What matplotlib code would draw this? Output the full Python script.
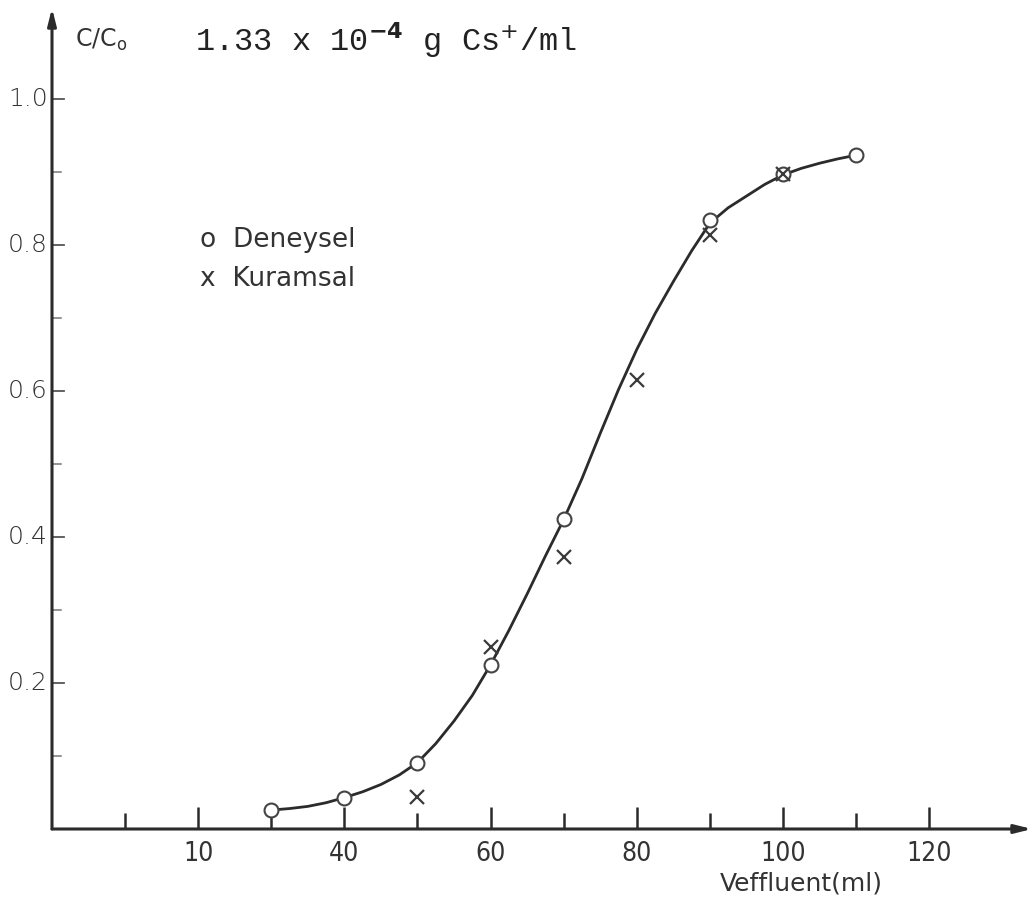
import matplotlib
matplotlib.use("Agg")
import matplotlib.pyplot as plt

# --- data ---
deneysel_x = [30, 40, 50, 60, 70, 90, 100, 110]
deneysel_y = [0.026, 0.043, 0.091, 0.225, 0.424, 0.834, 0.897, 0.923]

kuramsal_x = [50, 60, 70, 80, 90, 100]
kuramsal_y = [0.044, 0.250, 0.373, 0.615, 0.814, 0.897]

curve_x = [30, 32.5, 35, 37.5, 40, 42.5, 45, 47.5, 50, 52.5, 55, 57.5, 60, 62.5,
           65, 67.5, 70, 72.5, 75, 77.5, 80, 82.5, 85, 87.5, 90, 92.5, 95, 97.5,
           100, 102.5, 105, 107.5, 110]
curve_y = [0.026, 0.028, 0.031, 0.036, 0.043, 0.051, 0.061, 0.074, 0.091, 0.117,
           0.148, 0.183, 0.225, 0.272, 0.322, 0.374, 0.424, 0.480, 0.542, 0.602,
           0.657, 0.706, 0.750, 0.792, 0.830, 0.851, 0.867, 0.883, 0.896, 0.905,
           0.912, 0.918, 0.923]

x_major = [20, 40, 60, 80, 100, 120]
x_major_labels = ["10", "40", "60", "80", "100", "120"]
x_minor = [10, 30, 50, 70, 90, 110]
y_major = [0.2, 0.4, 0.6, 0.8, 1.0]
y_major_labels = ["0.2", "0.4", "0.6", "0.8", "1.0"]
y_minor = [0.1, 0.3, 0.5, 0.7, 0.9]

W, H = 1036, 924
fig = plt.figure(figsize=(W / 100, H / 100), dpi=100)
fig.patch.set_facecolor("white")

# axes placed so that origin is at pixel (52, 829)
x0, y0 = 52, 829
xr, yt = 1032, 8
ax = fig.add_axes([x0 / W, (H - y0) / H, (xr - x0) / W, (y0 - yt) / H])
px_per_x = (930 - 199) / 100.0
px_per_y = 730.0
ax.set_xlim(0, (xr - x0) / px_per_x)
ax.set_ylim(0, (y0 - yt) / px_per_y)
for s in ax.spines.values():
    s.set_visible(False)
ax.set_xticks([])
ax.set_yticks([])

ink = "#2b2b2b"
# axes with arrows
ax.annotate("", xy=(ax.get_xlim()[1], 0), xytext=(0, 0),
            arrowprops=dict(arrowstyle="-|>,head_length=1.0,head_width=0.25",
                            color=ink, lw=2.2, shrinkA=0, shrinkB=0),
            annotation_clip=False)
ax.annotate("", xy=(0, ax.get_ylim()[1]), xytext=(0, 0),
            arrowprops=dict(arrowstyle="-|>,head_length=1.0,head_width=0.25",
                            color=ink, lw=2.2, shrinkA=0, shrinkB=0),
            annotation_clip=False)

# x ticks (upward, inside)
tick_dy_major = 22 / px_per_y
tick_dy_minor = 16 / px_per_y
for xv in x_major:
    ax.plot([xv, xv], [0, tick_dy_major], color=ink, lw=1.8, solid_capstyle="butt")
for xv in x_minor:
    ax.plot([xv, xv], [0, tick_dy_minor], color=ink, lw=1.8, solid_capstyle="butt")
for xv, lab in zip(x_major, x_major_labels):
    ax.text(xv, -12 / px_per_y, lab, ha="center", va="top", fontsize=19,
            color="#333333", family="DejaVu Sans", fontstretch="condensed",
            fontweight="light")

# y ticks (rightward, inside)
tick_dx_major = 12 / px_per_x
tick_dx_minor = 9 / px_per_x
for yv in y_major:
    ax.plot([0, tick_dx_major], [yv, yv], color="#555555", lw=1.3)
for yv in y_minor:
    ax.plot([0, tick_dx_minor], [yv, yv], color="#777777", lw=1.1)
for yv, lab in zip(y_major, y_major_labels):
    ax.text(-4 / px_per_x, yv, lab, ha="right", va="center", fontsize=18,
            color="#333333", family="DejaVu Sans", fontweight="light")

# curve and points
ax.plot(curve_x, curve_y, color=ink, lw=2.0, zorder=2, solid_joinstyle="round")
ax.plot(deneysel_x, deneysel_y, linestyle="none", marker="o", markersize=10,
        markerfacecolor="white", markeredgecolor="#444444", markeredgewidth=1.5, zorder=3)
ax.plot(kuramsal_x, kuramsal_y, linestyle="none", marker="x", markersize=10,
        markeredgecolor="#3a3a3a", markeredgewidth=1.6, zorder=4)

# texts
fig.text(75 / W, 1 - 40 / H, r"C/C$_\mathregular{o}$", ha="left", va="center",
         fontsize=17, color="#333333", family="DejaVu Sans")
fig.text(195 / W, 1 - 40 / H, r"1.33 x 10$^{\mathbf{-4}}$ g Cs$^{+}$/ml", ha="left",
         va="center", fontsize=23, color="#222222", family="Liberation Mono",
         math_fontfamily="dejavusans")
fig.text(200 / W, 1 - 240 / H, "o  Deneysel", ha="left", va="center", fontsize=19,
         color="#333333", family="DejaVu Sans")
fig.text(200 / W, 1 - 279 / H, "x  Kuramsal", ha="left", va="center", fontsize=19,
         color="#333333", family="DejaVu Sans")
fig.text(720 / W, 1 - 884 / H, "Veffluent(ml)", ha="left", va="center", fontsize=18,
         color="#333333", family="DejaVu Sans")

fig.savefig("out.png", dpi=100, facecolor="white")
